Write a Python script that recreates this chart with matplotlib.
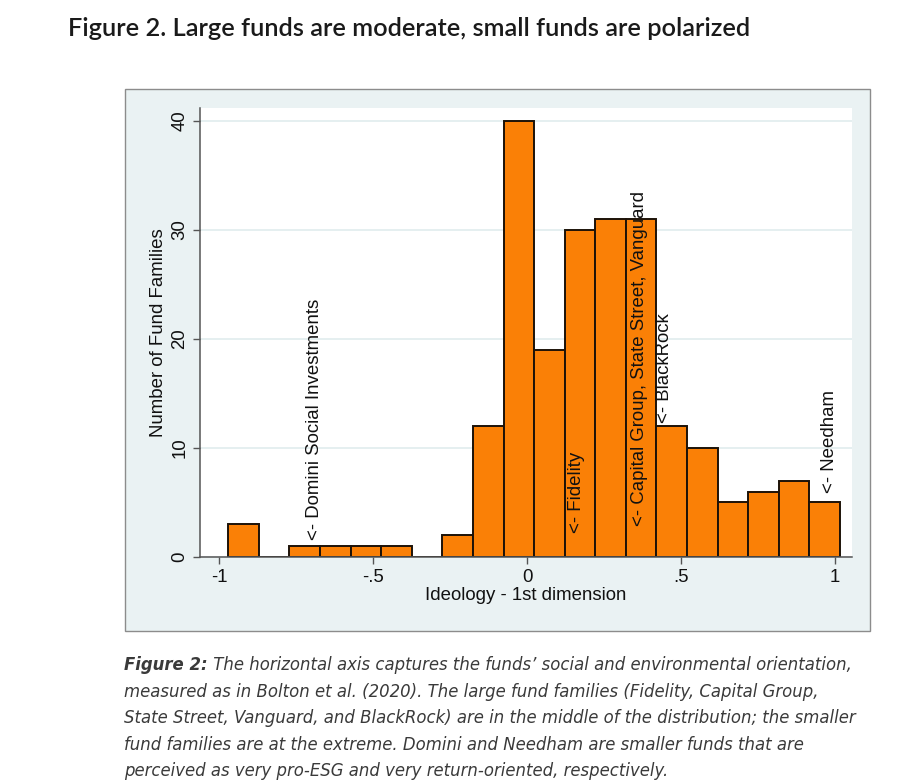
import matplotlib.pyplot as plt
import numpy as np
from matplotlib.patches import Rectangle

plt.rcParams["font.family"] = ["Liberation Sans", "DejaVu Sans"]

# histogram: 20 equal-width bins over the ideology scores
bin_lo = -0.970
bin_hi = 1.016
counts = [3, 0, 1, 1, 1, 1, 0, 2, 12, 40, 19, 30, 31, 31, 12, 10, 5, 6, 7, 5]

# fund family marker labels (x = ideology score, y = where the label starts)
label_names = [
    "<- Domini Social Investments",
    "<- Fidelity",
    "<- Capital Group, State Street, Vanguard",
    "<- BlackRock",
    "<- Needham",
]
label_x = [-0.69, 0.161, 0.365, 0.447, 0.982]
label_y = [1.55, 2.2, 2.8, 12.3, 5.9]

x_ticks = [-1, -0.5, 0, 0.5, 1]
x_tick_labels = ["-1", "-.5", "0", ".5", "1"]
y_ticks = [0, 10, 20, 30, 40]

title = "Figure 2. Large funds are moderate, small funds are polarized"
caption_head = "Figure 2:"
caption_lines = [
    " The horizontal axis captures the funds\u2019 social and environmental orientation,",
    "measured as in Bolton et al. (2020). The large fund families (Fidelity, Capital Group,",
    "State Street, Vanguard, and BlackRock) are in the middle of the distribution; the smaller",
    "fund families are at the extreme. Domini and Needham are smaller funds that are",
    "perceived as very pro-ESG and very return-oriented, respectively.",
]

W, H = 919, 781
fig = plt.figure(figsize=(W / 100, H / 100), dpi=100, facecolor="white")

# Stata graph region (light blue-grey panel with a thin frame)
fig.add_artist(Rectangle((125 / W, 1 - 631 / H), 745 / W, 542 / H,
                         transform=fig.transFigure, facecolor="#eaf2f3",
                         edgecolor="#8c8c8c", linewidth=1.0, zorder=0))

ax = fig.add_axes([200 / W, 1 - 557 / H, 652 / W, 449 / H])
ax.set_facecolor("white")
ax.set_zorder(1)

fs = 13.4
edges = np.linspace(bin_lo, bin_hi, len(counts) + 1)
ax.bar(edges[:-1], counts, width=np.diff(edges), align="edge",
       color="#fa8006", edgecolor="#1c1208", linewidth=1.4, zorder=2)

for name, lx, ly in zip(label_names, label_x, label_y):
    ax.text(lx, ly, name, rotation=90, ha="center", va="bottom",
            fontsize=fs, color="#111111", zorder=3)

ax.set_xlim(-1.062, 1.055)
ax.set_ylim(0, 41.15)
ax.set_xticks(x_ticks)
ax.set_xticklabels(x_tick_labels)
ax.set_yticks(y_ticks)
ax.set_yticklabels([str(v) for v in y_ticks], rotation=90, va="center")
ax.yaxis.grid(True, color="#e3eeef", linewidth=1.3, zorder=0)
ax.set_axisbelow(True)

for side in ("top", "right"):
    ax.spines[side].set_visible(False)
for side in ("left", "bottom"):
    ax.spines[side].set_color("#555555")
    ax.spines[side].set_linewidth(1.1)
ax.tick_params(direction="out", length=5, width=1.0, color="#555555",
               labelsize=fs, labelcolor="#111111", pad=3.5)

ax.set_xlabel("Ideology - 1st dimension", fontsize=fs, color="#111111", labelpad=1)
ax.set_ylabel("Number of Fund Families", fontsize=fs, color="#111111", labelpad=3)

fig.text(68 / W, 1 - 36 / H, title, fontsize=18.3, fontweight="semibold",
         family=["Lato", "DejaVu Sans"], color="#1a1a1a", va="baseline")

cap_style = dict(fontsize=11.9, style="italic", family=["DejaVu Sans"], color="#3a3a3a",
                 va="baseline")
y0 = 670
step = 26.6
head = fig.text(124 / W, 1 - y0 / H, caption_head, fontweight="bold", **cap_style)
ax.annotate(caption_lines[0], xy=(1, 1 - y0 / H), xycoords=(head, "figure fraction"),
            annotation_clip=False, **cap_style)
for i, line in enumerate(caption_lines[1:], start=1):
    fig.text(124 / W, 1 - (y0 + i * step) / H, line, **cap_style)

fig.savefig("out.png", dpi=100, facecolor="white")
